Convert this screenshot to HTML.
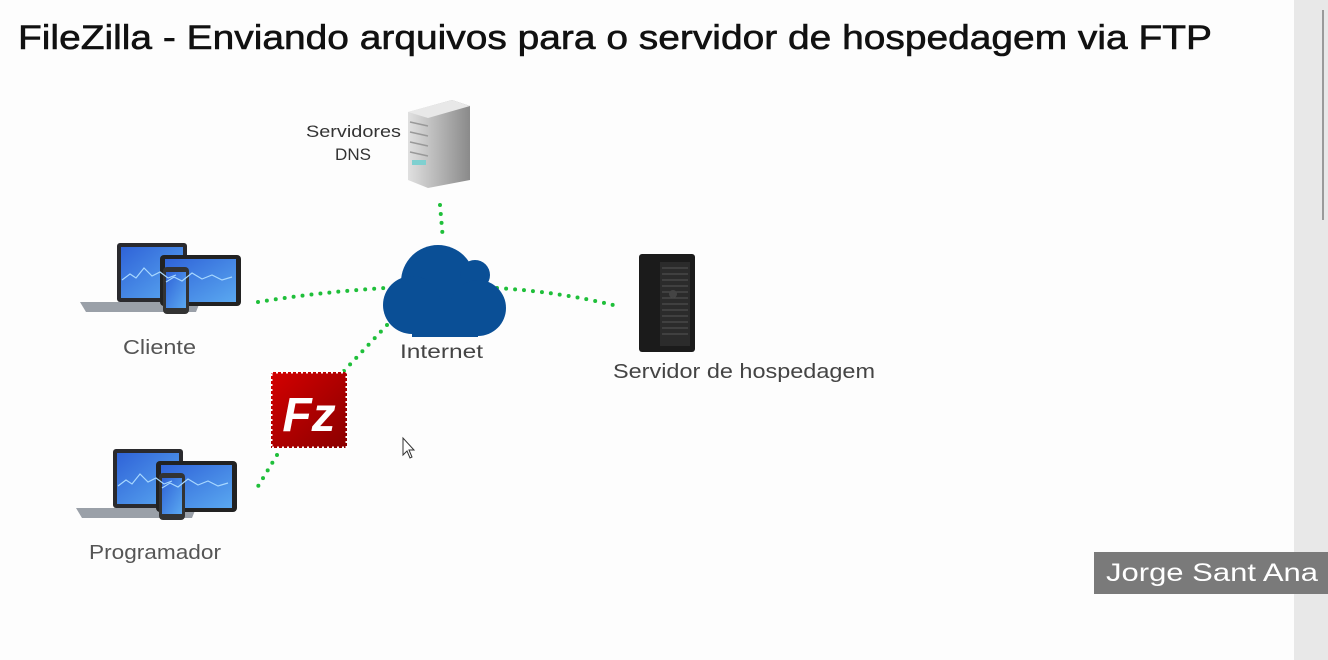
<!DOCTYPE html>
<html><head><style>
html,body{margin:0;padding:0;background:#fdfdfd;width:1328px;height:660px;overflow:hidden}
svg{display:block}
text{font-family:"Liberation Sans",sans-serif}
</style></head><body>
<svg width="1328" height="660" viewBox="0 0 1328 660">
<defs>
<linearGradient id="scr" x1="0" y1="0" x2="1" y2="1"><stop offset="0" stop-color="#2f63d8"/><stop offset="1" stop-color="#5aa8f0"/></linearGradient>
<linearGradient id="dns" x1="0" y1="0" x2="1" y2="0"><stop offset="0" stop-color="#e0e0e0"/><stop offset="1" stop-color="#8a8a8a"/></linearGradient>
<linearGradient id="fz" x1="0" y1="0" x2="1" y2="1"><stop offset="0" stop-color="#d40000"/><stop offset="1" stop-color="#8a0000"/></linearGradient>
<g id="dev">
<path d="M80 302 L200 302 L196 312 L86 312 Z" fill="#9aa0a8"/>
<rect x="117" y="243" width="70" height="59" rx="3" fill="#2a2a2e"/>
<rect x="121" y="247" width="62" height="51" fill="url(#scr)"/>
<rect x="160" y="255" width="81" height="51" rx="4" fill="#222"/>
<rect x="165" y="259" width="71" height="43" fill="url(#scr)"/>
<rect x="163" y="267" width="26" height="47" rx="4" fill="#333"/>
<rect x="166" y="272" width="20" height="36" fill="url(#scr)"/>
<path d="M122 280 l8 -6 6 4 8 -10 8 8 8 -4 8 6 8 -3" stroke="#a8d8ff" stroke-width="1.2" fill="none"/>
<path d="M166 282 l8 -5 8 4 10 -8 10 6 10 -4 10 5 10 -3" stroke="#a8d8ff" stroke-width="1.2" fill="none"/>
</g>
</defs>
<rect x="1294" y="0" width="34" height="660" fill="#e8e8e8"/>
<rect x="1322" y="10" width="2" height="210" fill="#9a9a9a"/>
<text x="18" y="49" font-size="34" fill="#111" stroke="#111" stroke-width="0.6" textLength="1194" lengthAdjust="spacingAndGlyphs">FileZilla - Enviando arquivos para o servidor de hospedagem via FTP</text>

<g stroke="#1fbf3a" stroke-width="4" stroke-linecap="round" stroke-dasharray="0 9" fill="none">
<path d="M258 302 Q320 292 385 288"/>
<path d="M440 205 L443 240"/>
<path d="M497 288 Q560 292 613 305"/>
<path d="M387 325 L343 372"/>
<path d="M277 455 L257 488"/>
</g>

<use href="#dev"/>
<use href="#dev" transform="translate(-4 206)"/>

<path d="M408 112 L452 100 L470 106 L470 180 L428 188 L408 180 Z" fill="url(#dns)"/>
<path d="M408 112 L452 100 L470 106 L428 118 Z" fill="#e8e8e8"/>
<g stroke="#999" stroke-width="1.5"><path d="M410 122 L428 126 M410 132 L428 136 M410 142 L428 146 M410 152 L428 156"/></g>
<rect x="412" y="160" width="14" height="5" fill="#7fd0d0"/>
<text x="306" y="137" font-size="17" fill="#333" textLength="95" lengthAdjust="spacingAndGlyphs">Servidores</text>
<text x="353" y="160" font-size="17" fill="#333" text-anchor="middle">DNS</text>

<g fill="#0a4f96">
<circle cx="438" cy="282" r="37"/>
<circle cx="475" cy="275" r="15"/>
<circle cx="412" cy="305" r="29"/>
<circle cx="478" cy="308" r="28"/>
<rect x="412" y="300" width="66" height="37"/>
</g>
<text x="400" y="358" font-size="19" fill="#444" textLength="83" lengthAdjust="spacingAndGlyphs">Internet</text>

<rect x="639" y="254" width="56" height="98" rx="3" fill="#1b1b1b"/>
<rect x="660" y="262" width="30" height="84" fill="#2b2b2b"/>
<g stroke="#555" stroke-width="1"><path d="M662 268h26M662 274h26M662 280h26M662 286h26M662 292h26M662 298h26M662 304h26M662 310h26M662 316h26M662 322h26M662 328h26M662 334h26"/></g>
<circle cx="673" cy="294" r="4" fill="#444"/>
<text x="613" y="378" font-size="20" fill="#444" textLength="262" lengthAdjust="spacingAndGlyphs">Servidor de hospedagem</text>

<text x="123" y="354" font-size="20" fill="#555" textLength="73" lengthAdjust="spacingAndGlyphs">Cliente</text>
<text x="89" y="559" font-size="20" fill="#555" textLength="132" lengthAdjust="spacingAndGlyphs">Programador</text>

<rect x="271" y="372" width="76" height="76" fill="url(#fz)"/>
<rect x="271" y="372" width="76" height="76" fill="none" stroke="#fff" stroke-width="3" stroke-dasharray="2 3"/>
<text x="309" y="431" font-size="48" font-weight="bold" font-style="italic" fill="#fff" text-anchor="middle">Fz</text>

<path d="M403 438 L403 455 L407 451 L410 458 L412 457 L409 450 L414 450 Z" fill="#fff" stroke="#333" stroke-width="1"/>

<rect x="1094" y="552" width="234" height="42" fill="#7a7a7a"/>
<text x="1106" y="581" font-size="25" fill="#fff" textLength="212" lengthAdjust="spacingAndGlyphs">Jorge Sant Ana</text>
</svg>
</body></html>
